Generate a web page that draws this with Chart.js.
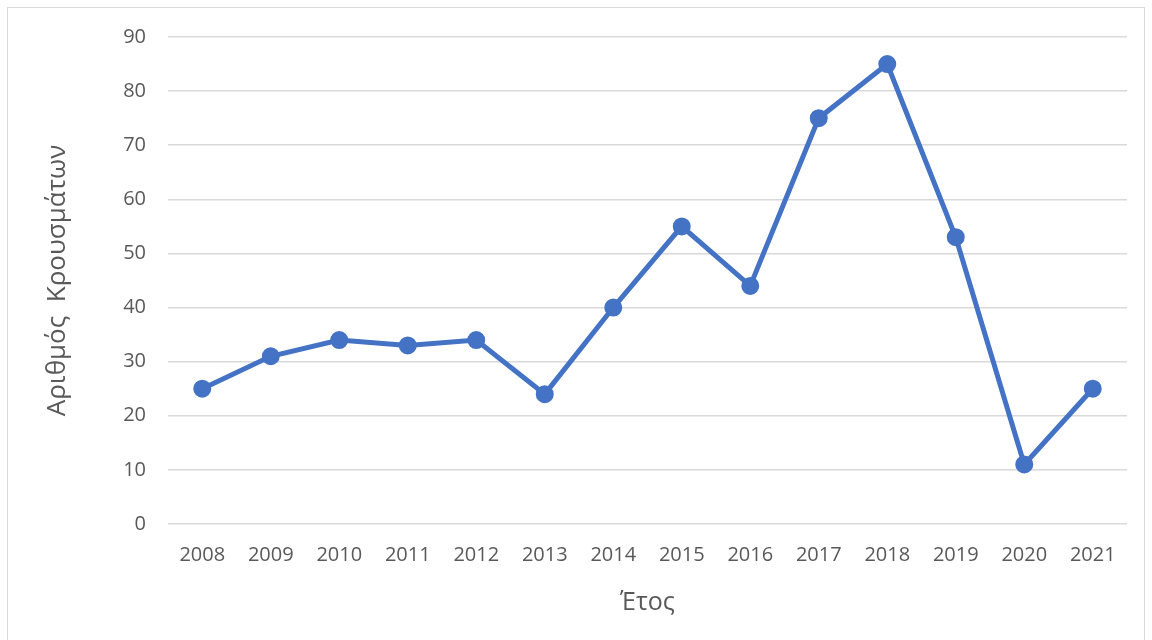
<!DOCTYPE html>
<html>
<head>
<meta charset="utf-8">
<script src="https://cdn.jsdelivr.net/npm/chart.js@4"></script>
<style>
  body { margin: 0; background: #fff; }
  #wrap { position: absolute; left: 0; top: 0; width: 1152px; height: 640px; }
  #frame { position: absolute; left: 7px; top: 7px; width: 1138px; height: 640px; border: 1px solid #d9d9d9; box-sizing: border-box; }
</style>
</head>
<body>
<div id="wrap">
  <div id="frame"></div>
  <canvas id="ctx" width="1152" height="640"></canvas>
</div>
<script>
const years = ["2008", "2009", "2010", "2011", "2012", "2013", "2014", "2015", "2016", "2017", "2018", "2019", "2020", "2021"];
const cases = [25, 31, 34, 33, 34, 24, 40, 55, 44, 75, 85, 53, 11, 25];
const yTicks = [0, 10, 20, 30, 40, 50, 60, 70, 80, 90];

const ctx = document.getElementById("ctx");
const textColor = "#595959";
const font = "'Open Sans', sans-serif";

new Chart(ctx, {
  type: "line",
  data: {
    labels: years,
    datasets: [
      {
        label: "Κρούσματα",
        data: cases,
        borderColor: "#4472C4",
        backgroundColor: "#4472C4",
        borderWidth: 5,
        pointRadius: 6.5,
        pointHoverRadius: 6.5,
        tension: 0,
      },
    ],
  },
  options: {
    responsive: false,
    animation: false,
    layout: { padding: { left: 42, right: 25, top: 37, bottom: 0 } },
    plugins: { legend: { display: false }, tooltip: { enabled: false } },
    scales: {
      x: {
        offset: true,
        grid: { display: false },
        border: { display: false },
        ticks: { color: textColor, font: { family: font, size: 20 }, padding: 11 },
        title: { display: true, text: "Έτος", color: textColor, font: { family: font, size: 25 }, padding: { top: 0, bottom: 22 } },
        afterFit: (scale) => { scale.height = 116; },
      },
      y: {
        min: 0,
        max: 90,
        afterBuildTicks: (scale) => { scale.ticks = yTicks.map((v) => ({ value: v })); },
        grid: { color: "#d9d9d9", lineWidth: 1.5, drawTicks: false },
        border: { display: false },
        ticks: { color: textColor, font: { family: font, size: 20 }, padding: 22 },
        title: { display: true, text: "Αριθμός  Κρουσμάτων", color: textColor, font: { family: font, size: 26 }, padding: 0 },
        afterFit: (scale) => { scale.width = 126; scale.paddingTop = 0; scale.paddingBottom = 0; },
      },
    },
  },
});
</script>
</body>
</html>
